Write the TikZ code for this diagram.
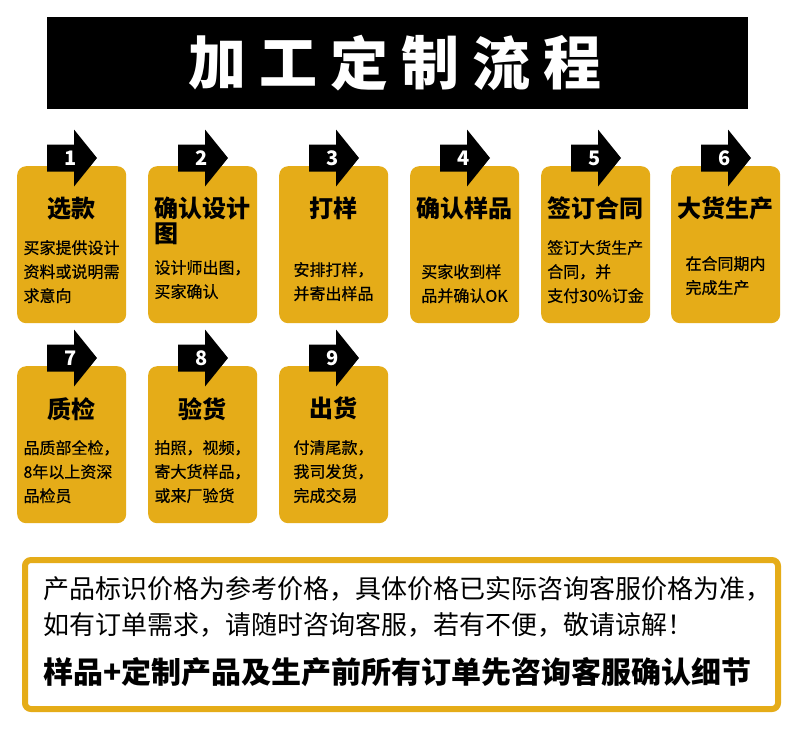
\documentclass[tikz,border=0pt]{standalone}
\usepackage{fontspec}
\setmainfont{Noto Sans CJK SC}
\newfontfamily\bodyfont{Noto Sans CJK SC}[FakeBold=0.6]
\definecolor{cardgold}{RGB}{229,172,24}

\begin{document}
\begin{tikzpicture}[x=1pt,y=-1pt,
  card/.style={fill=cardgold,rounded corners=9pt,minimum width=109pt,minimum height=157pt,inner sep=0pt,anchor=north west},
  cardtitle/.style={font=\bfseries\fontsize{24pt}{25pt}\selectfont,align=left,inner sep=0pt,anchor=north},
  cardtext/.style={font=\bodyfont\fontsize{16pt}{24pt}\selectfont,align=left,inner sep=0pt,anchor=north},
  marker/.style={fill=black},
  stepnum/.style={text=white,font=\bfseries\fontsize{20pt}{20pt}\selectfont,inner sep=0pt},
  banner/.style={fill=black,minimum width=701pt,minimum height=92pt,inner sep=0pt,anchor=north west},
  headchar/.style={text=white,font=\bfseries\fontsize{58pt}{58pt}\selectfont,inner sep=0pt},
  notebox/.style={draw=cardgold,line width=6pt,rounded corners=6pt,fill=white,minimum width=753pt,minimum height=149pt,inner sep=0pt,anchor=north west},
  noteline/.style={font=\fontsize{26pt}{26pt}\selectfont,inner sep=0pt,anchor=west}
]
\useasboundingbox (0,0) rectangle (800,737);
\fill[white] (0,0) rectangle (800,737);

% title bar
\node[banner] (bar) at (47,17) {};
\foreach \ch [count=\k] in {加,工,定,制,流,程}
  \node[headchar] (head\k) at ({217+71*(\k-1)},63) {\ch};

% process cards
\foreach \i/\x/\y/\ttl/\txt/\off in {
  1/17/166/{选款}/{买家提供设计\\资料或说明需\\求意向}/74,
  2/148/166/{确认设计\\图}/{设计师出图，\\买家确认}/94,
  3/279/166/{打样}/{安排打样，\\并寄出样品}/96,
  4/410/166/{确认样品}/{买家收到样\\品并确认OK}/98,
  5/541/166/{签订合同}/{签订大货生产\\合同，并\\支付30\%订金}/74,
  6/671/166/{大货生产}/{在合同期内\\完成生产}/90,
  7/17/366/{质检}/{品质部全检，\\8年以上资深\\品检员}/74,
  8/148/366/{验货}/{拍照，视频，\\寄大货样品，\\或来厂验货}/74,
  9/279/366/{出货}/{付清尾款，\\我司发货，\\完成交易}/74}
{
  \begin{scope}[shift={(\x,\y)}]
    \node[card] (card\i) at (0,0) {};
    \fill[marker] (30,-21.5) -- (57,-21.5) -- (57,-36.5) -- (80,-8)
      -- (57,20.5) -- (57,5.5) -- (30,5.5) -- cycle;
    \node[stepnum] (num\i) at (54,-8) {\i};
    \node[cardtitle] (title\i) at (54.5,31) {\ttl};
    \node[cardtext] (body\i) at (54.5,\off) {\txt};
  \end{scope}
}

% notice
\node[notebox] (note) at (22,557) {};
\node[noteline] (note1) at (43,589) {产品标识价格为参考价格，具体价格已实际咨询客服价格为准，};
\node[noteline] (note2) at (43,625) {如有订单需求，请随时咨询客服，若有不便，敬请谅解！};
\node[noteline,font=\bfseries\fontsize{30pt}{30pt}\selectfont] (note3) at (43,672) {样品+定制产品及生产前所有订单先咨询客服确认细节};
\end{tikzpicture}
\end{document}
